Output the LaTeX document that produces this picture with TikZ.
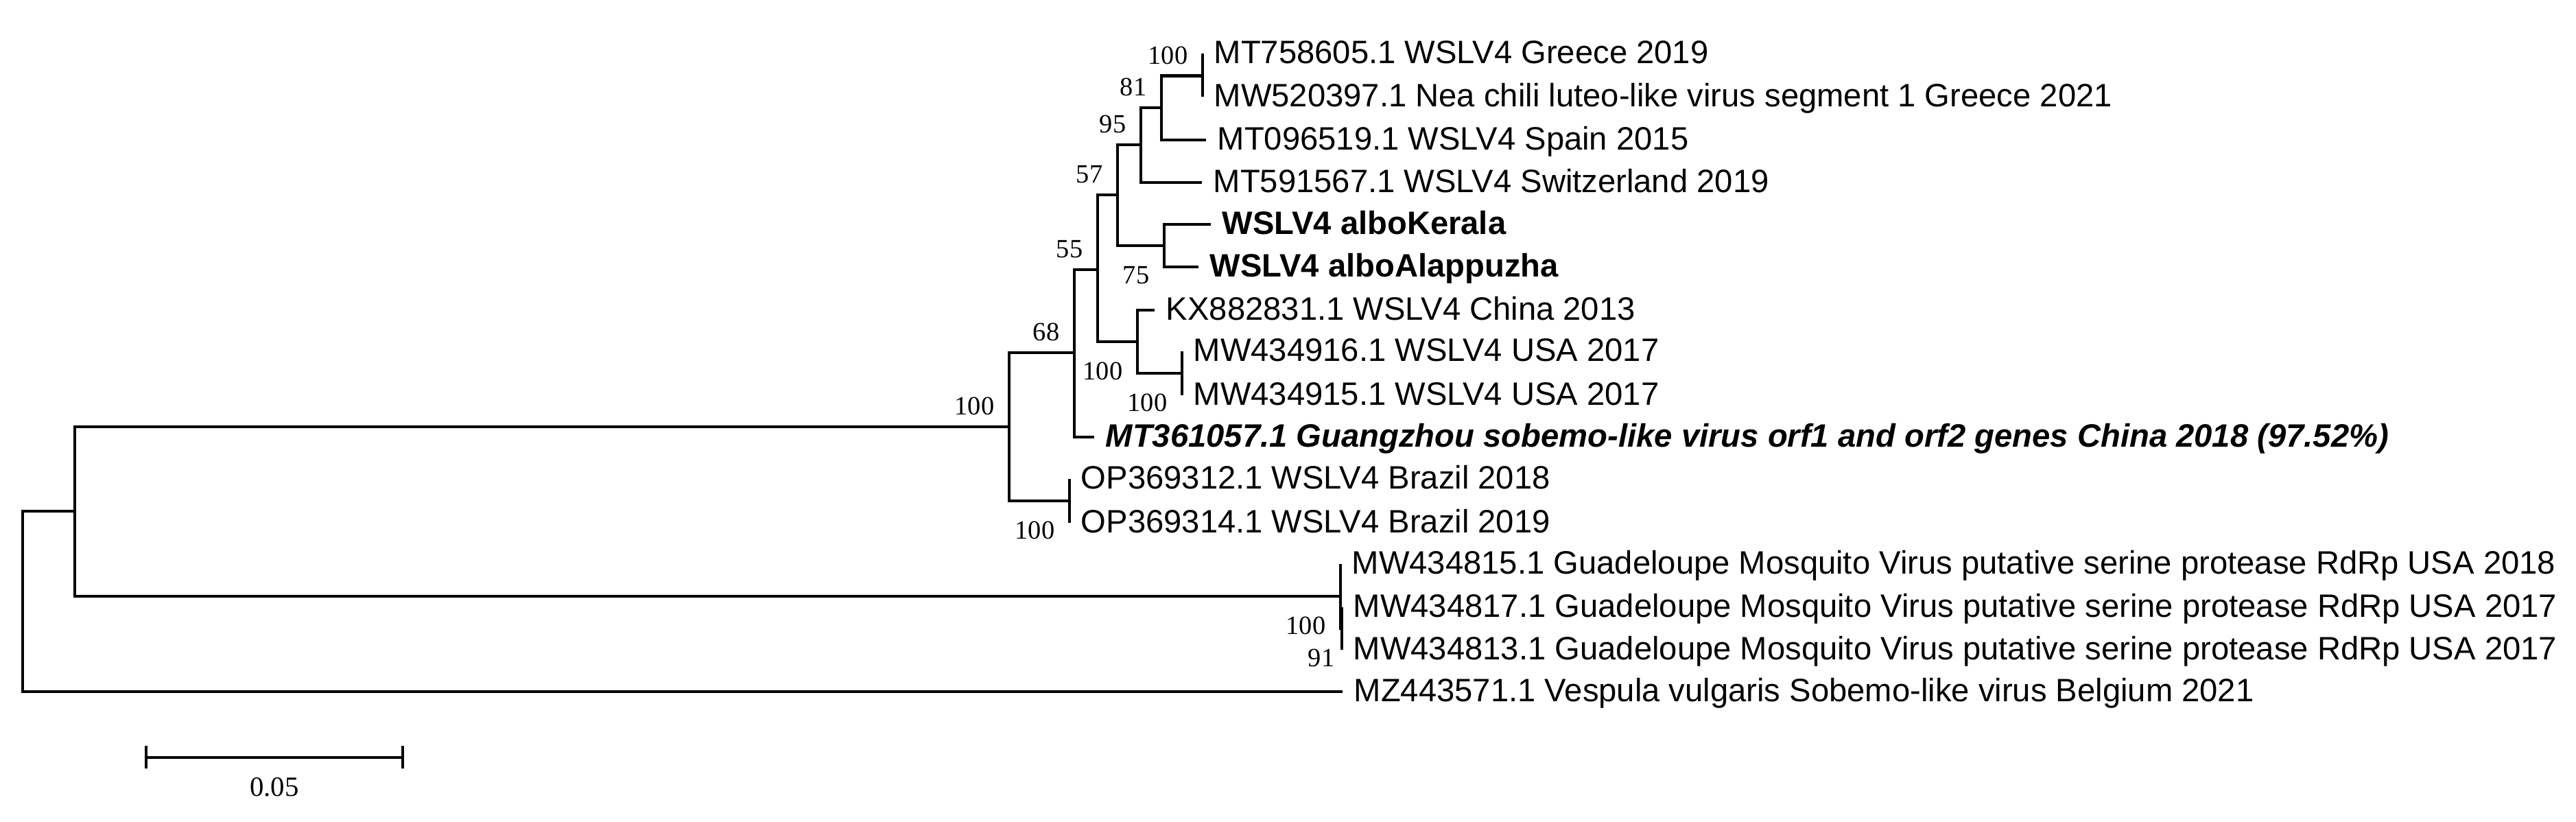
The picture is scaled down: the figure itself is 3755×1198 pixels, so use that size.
\documentclass[tikz,border=0pt]{standalone}
\usepackage{fontspec}
\setmainfont{Liberation Sans}
\newfontfamily\bsfont{Liberation Serif}
\begin{document}
\begin{tikzpicture}[x=0.25pt,y=-0.25pt,
  br/.style={line width=1.05pt,line join=miter},
  leaf/.style={anchor=base west,inner sep=0pt,xshift=4pt,yshift=-3.7pt,font=\fontsize{11.8}{13}\selectfont},
  bsup/.style={anchor=base east,inner sep=0pt,xshift=-5.25pt,yshift=4.3pt,font=\bsfont\fontsize{9.6}{11}\selectfont},
  bsdown/.style={anchor=base east,inner sep=0pt,xshift=-5.25pt,yshift=-13.75pt,font=\bsfont\fontsize{9.6}{11}\selectfont}]
\useasboundingbox (0,0) rectangle (3755,1198);
\fill[white] (0,0) rectangle (3755,1198);
% internal nodes
\coordinate (root) at (33,876.5);
\coordinate (nL) at (109,745);
\coordinate (nJ) at (1471,622);
\coordinate (nK) at (1559,730);
\coordinate (nG) at (1566,514);
\coordinate (nF) at (1600,393);
\coordinate (nD) at (1629,284);
\coordinate (nC) at (1663,211);
\coordinate (nB) at (1693,157);
\coordinate (nA) at (1753,110.5);
\coordinate (nE) at (1697,358);
\coordinate (nH) at (1658,498);
\coordinate (nI) at (1723,544);
\coordinate (nM) at (1954,869);
\coordinate (nN) at (1956,916);
% leaf tips
\coordinate (t1) at (1753,78);
\coordinate (t2) at (1753,141);
\coordinate (t3) at (1758,204);
\coordinate (t4) at (1752,266);
\coordinate (t5) at (1765,327);
\coordinate (t6) at (1747,389);
\coordinate (t7) at (1683,452);
\coordinate (t8) at (1723,512);
\coordinate (t9) at (1723,576);
\coordinate (t10) at (1595,637);
\coordinate (t11) at (1559,698);
\coordinate (t12) at (1559,762);
\coordinate (t13) at (1954,822);
\coordinate (t14) at (1956,885);
\coordinate (t15) at (1956,947);
\coordinate (t16) at (1957,1008);
% branches
\draw[br] (root) |- (nL);
\draw[br] (root) |- (t16);
\draw[br] (nL) |- (nJ);
\draw[br] (nL) |- (nM);
\draw[br] (nJ) |- (nG);
\draw[br] (nJ) |- (nK);
\draw[br] (nK) |- (t11);
\draw[br] (nK) |- (t12);
\draw[br] (nG) |- (nF);
\draw[br] (nG) |- (t10);
\draw[br] (nF) |- (nD);
\draw[br] (nF) |- (nH);
\draw[br] (nD) |- (nC);
\draw[br] (nD) |- (nE);
\draw[br] (nC) |- (nB);
\draw[br] (nC) |- (t4);
\draw[br] (nB) |- (nA);
\draw[br] (nB) |- (t3);
\draw[br] (nA) |- (t1);
\draw[br] (nA) |- (t2);
\draw[br] (nE) |- (t5);
\draw[br] (nE) |- (t6);
\draw[br] (nH) |- (t7);
\draw[br] (nH) |- (nI);
\draw[br] (nI) |- (t8);
\draw[br] (nI) |- (t9);
\draw[br] (nM) |- (t13);
\draw[br] (nM) |- (nN);
\draw[br] (nN) |- (t14);
\draw[br] (nN) |- (t15);
% leaf labels
\node[leaf] (L1) at (t1) {MT758605.1 WSLV4 Greece 2019};
\node[leaf] (L2) at (t2) {MW520397.1 Nea chili luteo-like virus segment 1 Greece 2021};
\node[leaf] (L3) at (t3) {MT096519.1 WSLV4 Spain 2015};
\node[leaf] (L4) at (t4) {MT591567.1 WSLV4 Switzerland 2019};
\node[leaf,font=\fontsize{11.8}{13}\selectfont\bfseries] (L5) at (t5) {WSLV4 alboKerala};
\node[leaf,font=\fontsize{11.8}{13}\selectfont\bfseries] (L6) at (t6) {WSLV4 alboAlappuzha};
\node[leaf] (L7) at (t7) {KX882831.1 WSLV4 China 2013};
\node[leaf] (L8) at (t8) {MW434916.1 WSLV4 USA 2017};
\node[leaf] (L9) at (t9) {MW434915.1 WSLV4 USA 2017};
\node[leaf,font=\fontsize{11.8}{13}\selectfont\bfseries\itshape] (L10) at (t10) {MT361057.1 Guangzhou sobemo-like virus orf1 and orf2 genes China 2018 (97.52\%)};
\node[leaf] (L11) at (t11) {OP369312.1 WSLV4 Brazil 2018};
\node[leaf] (L12) at (t12) {OP369314.1 WSLV4 Brazil 2019};
\node[leaf] (L13) at (t13) {MW434815.1 Guadeloupe Mosquito Virus putative serine protease RdRp USA 2018};
\node[leaf] (L14) at (t14) {MW434817.1 Guadeloupe Mosquito Virus putative serine protease RdRp USA 2017};
\node[leaf] (L15) at (t15) {MW434813.1 Guadeloupe Mosquito Virus putative serine protease RdRp USA 2017};
\node[leaf] (L16) at (t16) {MZ443571.1 Vespula vulgaris Sobemo-like virus Belgium 2021};
% bootstrap values
\node[bsup] (bA) at (nA) {100};
\node[bsup] (bB) at (nB) {81};
\node[bsup] (bC) at (nC) {95};
\node[bsup] (bD) at (nD) {57};
\node[bsup] (bF) at (nF) {55};
\node[bsup] (bG) at (nG) {68};
\node[bsup] (bJ) at (nJ) {100};
\node[bsdown] (bE) at (nE) {75};
\node[bsdown] (bH) at (nH) {100};
\node[bsdown] (bI) at (nI) {100};
\node[bsdown] (bK) at (nK) {100};
\node[bsdown] (bM) at (nM) {100};
\node[bsdown,xshift=2.75pt] (bN) at (nN) {91};
% scale bar
\coordinate (s1) at (213,1104);
\coordinate (s2) at (587,1104);
\draw[line width=1.05pt] (s1) -- (s2);
\draw[line width=0.9pt] ([yshift=4.25pt]s1) -- ([yshift=-4pt]s1);
\draw[line width=0.9pt] ([yshift=4.25pt]s2) -- ([yshift=-4pt]s2);
\node[anchor=base,inner sep=0pt,font=\bsfont\fontsize{10.2}{12}\selectfont] (sl) at (400,1160) {0.05};
\end{tikzpicture}
\end{document}
